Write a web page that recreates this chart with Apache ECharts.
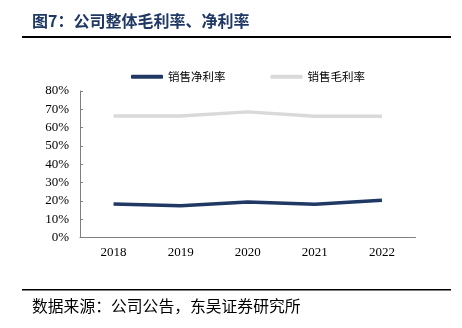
<!DOCTYPE html>
<html><head><meta charset="utf-8">
<script src="https://cdn.jsdelivr.net/npm/echarts@6/dist/echarts.min.js"></script>
<style>html,body{margin:0;padding:0;background:#fff}#c{width:462px;height:328px}</style>
</head><body><div id="c"></div>
<script>
const categories = ['2018', '2019', '2020', '2021', '2022'];
const netMargin = [18.3, 17.4, 19.4, 18.1, 20.3];
const grossMargin = [66.4, 66.3, 68.6, 66.2, 66.2];
const seriesNames = ['销售净利率', '销售毛利率'];
const titleText = '图7：公司整体毛利率、净利率';
const sourceText = '数据来源：公司公告，东吴证券研究所';

const chart = echarts.init(document.getElementById('c'), null, {renderer: 'canvas'});
const cjk = '"Noto Sans CJK SC", sans-serif';
const serif = '"Liberation Serif", "Times New Roman", serif';
chart.setOption({
  animation: false,
  backgroundColor: '#fff',
  graphic: [
    {type: 'text', left: 32, top: 13, style: {text: titleText, font: 'bold 16px ' + cjk, fill: '#1f3864'}},
    {type: 'rect', shape: {x: 22, y: 36, width: 429, height: 2}, style: {fill: '#000'}},
    {type: 'rect', shape: {x: 22, y: 289, width: 429, height: 1.5}, style: {fill: '#000'}},
    {type: 'text', left: 32, top: 298, style: {text: sourceText, font: '15.8px ' + cjk, fill: '#000'}}
  ],
  legend: {
    left: 126, top: 66,
    itemWidth: 32, itemHeight: 4, itemGap: 45,
    icon: 'roundRect',
    textStyle: {fontFamily: cjk, fontSize: 11.5, color: '#000'},
    data: seriesNames
  },
  grid: {left: 80, right: 46.5, top: 91, bottom: 90.5},
  xAxis: {
    type: 'category', data: categories, boundaryGap: true,
    axisLine: {lineStyle: {color: '#7f7f7f', width: 1}},
    axisTick: {inside: true, length: 3, lineStyle: {color: '#7f7f7f'}},
    axisLabel: {fontFamily: serif, fontSize: 13, color: '#000', margin: 9}
  },
  yAxis: {
    type: 'value', min: 0, max: 80, interval: 10,
    axisLine: {show: true, lineStyle: {color: '#7f7f7f', width: 1}},
    axisTick: {show: true, inside: true, length: 3, lineStyle: {color: '#7f7f7f'}},
    splitLine: {show: false},
    axisLabel: {fontFamily: serif, fontSize: 13, color: '#000', margin: 11, formatter: '{value}%'}
  },
  series: [
    {name: seriesNames[0], type: 'line', data: netMargin, symbol: 'none',
     lineStyle: {color: '#1f3864', width: 3.5}, itemStyle: {color: '#1f3864'}},
    {name: seriesNames[1], type: 'line', data: grossMargin, symbol: 'none',
     lineStyle: {color: '#d9d9d9', width: 3.5}, itemStyle: {color: '#d9d9d9'}}
  ]
});
</script></body></html>
